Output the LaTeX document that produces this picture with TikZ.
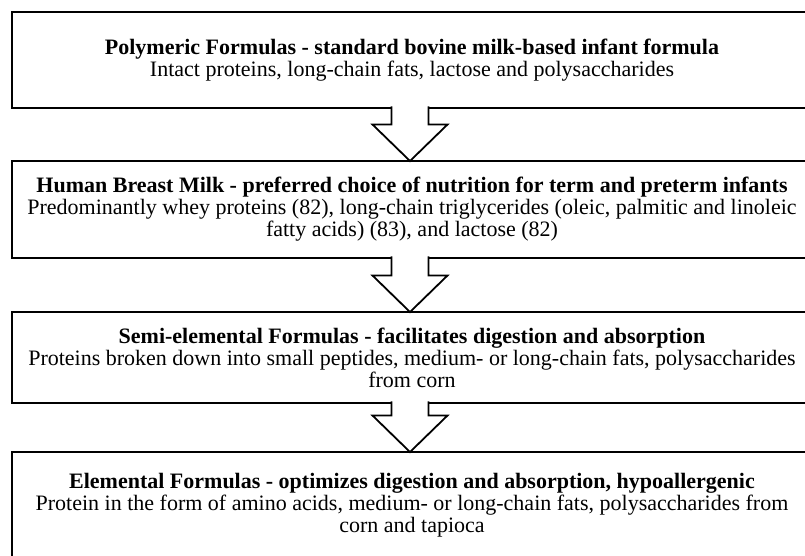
\documentclass[tikz,border=0pt]{standalone}
\usepackage{fontspec}
\setmainfont{Liberation Serif}
\usetikzlibrary{calc}

\newlength{\du}
\setlength{\du}{1pt}
\definecolor{dialinecolor}{rgb}{0.000000, 0.000000, 0.000000}

\tikzset{
  formbox/.style={draw=dialinecolor, line width=2.8\du, fill=white,
    minimum width=800\du, inner sep=0pt, outer sep=0pt, align=center,
    font=\fontsize{22\du}{22\du}\selectfont},
  flowarrow/.style={draw=dialinecolor, line width=1.8\du, fill=white, miter limit=20},
}

\begin{document}
\begin{tikzpicture}
\pgftransformxscale{1.000000}
\pgftransformyscale{-1.000000}
\useasboundingbox (0\du,0\du) rectangle (805\du,555\du);
\fill[white] (0\du,0\du) rectangle (805\du,555\du);
\clip (0\du,0\du) rectangle (805\du,555\du);
% the four formula boxes
\node[formbox, minimum height=96\du] (polymeric) at (412\du,60\du)
  {\textbf{Polymeric Formulas - standard bovine milk-based infant formula}\\
   Intact proteins, long-chain fats, lactose and polysaccharides};
\node[formbox, minimum height=97\du] (breastmilk) at (412\du,209.5\du)
  {\textbf{Human Breast Milk - preferred choice of nutrition for term and preterm infants}\\
   Predominantly whey proteins (82), long-chain triglycerides (oleic, palmitic and linoleic\\
   fatty acids) (83), and lactose (82)};
\node[formbox, minimum height=91\du] (semielemental) at (412\du,357.5\du)
  {\textbf{Semi-elemental Formulas - facilitates digestion and absorption}\\
   Proteins broken down into small peptides, medium- or long-chain fats, polysaccharides\\
   from corn};
\node[formbox, minimum height=106\du] (elemental) at (412\du,505\du)
  {\textbf{Elemental Formulas - optimizes digestion and absorption, hypoallergenic}\\
   Protein in the form of amino acids, medium- or long-chain fats, polysaccharides from\\
   corn and tapioca};
% hollow block arrows
\draw[flowarrow] ($(polymeric.south)+(-20.5\du,-1.6\du)$)--($(breastmilk.north)+(-20.5\du,-36.5\du)$)--($(breastmilk.north)+(-39.5\du,-36.5\du)$)--($(breastmilk.north)+(-2\du,0\du)$)--($(breastmilk.north)+(35.5\du,-36.5\du)$)--($(breastmilk.north)+(16.5\du,-36.5\du)$)--($(polymeric.south)+(16.5\du,-1.6\du)$);
\draw[flowarrow] ($(breastmilk.south)+(-20.5\du,-1.6\du)$)--($(semielemental.north)+(-20.5\du,-36.5\du)$)--($(semielemental.north)+(-39.5\du,-36.5\du)$)--($(semielemental.north)+(-2\du,0\du)$)--($(semielemental.north)+(35.5\du,-36.5\du)$)--($(semielemental.north)+(16.5\du,-36.5\du)$)--($(breastmilk.south)+(16.5\du,-1.6\du)$);
\draw[flowarrow] ($(semielemental.south)+(-20.5\du,-1.6\du)$)--($(elemental.north)+(-20.5\du,-36.5\du)$)--($(elemental.north)+(-39.5\du,-36.5\du)$)--($(elemental.north)+(-2\du,0\du)$)--($(elemental.north)+(35.5\du,-36.5\du)$)--($(elemental.north)+(16.5\du,-36.5\du)$)--($(semielemental.south)+(16.5\du,-1.6\du)$);
\end{tikzpicture}
\end{document}
